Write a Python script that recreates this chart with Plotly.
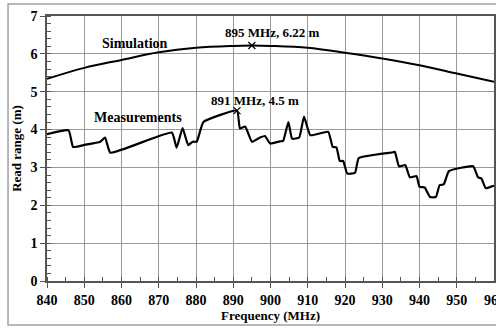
import plotly.graph_objects as go

sim_freq = [840, 850, 860, 870, 880, 890, 895, 900, 910, 920, 930, 940, 950, 960]
sim_range = [5.34, 5.63, 5.84, 6.04, 6.16, 6.21, 6.22, 6.21, 6.16, 6.03, 5.88, 5.70, 5.48, 5.26]

meas_freq = [840, 845.8, 847, 849.8, 854.3, 855.6, 857, 873.5, 874.8, 876.4, 877.9, 879.1, 880.2,
             882, 891, 891.8, 893.2, 895, 897.2, 898.5, 899.9, 902.5, 903.4, 904.8, 905.8, 907.7,
             909, 910.7, 915.5, 916.7, 917.7, 918.6, 919.5, 920.6, 922.7, 923.7, 932.9, 933.4,
             934.5, 936.2, 937.4, 939.2, 940, 941.4, 942.8, 944.4, 945.4, 946.5, 947.9, 954.4,
             955.7, 956.6, 957.8, 959.7, 960]
meas_range = [3.88, 3.98, 3.54, 3.59, 3.68, 3.79, 3.39, 3.92, 3.52, 4.04, 3.59, 3.68, 3.68,
              4.20, 4.50, 4.03, 4.08, 3.68, 3.79, 3.83, 3.63, 3.69, 3.70, 4.20, 3.76, 3.79,
              4.34, 3.85, 3.94, 3.54, 3.53, 3.17, 3.17, 2.84, 2.86, 3.25, 3.40, 3.41,
              3.03, 3.06, 2.74, 2.77, 2.49, 2.47, 2.22, 2.22, 2.53, 2.55, 2.90, 3.03,
              2.74, 2.71, 2.45, 2.51, 2.51]

peak_freq = [895, 891]
peak_range = [6.22, 4.50]

x_ticks = [840, 850, 860, 870, 880, 890, 900, 910, 920, 930, 940, 950, 960]
y_ticks = [0, 1, 2, 3, 4, 5, 6, 7]

FONT = "Liberation Serif"

fig = go.Figure()
fig.add_trace(go.Scatter(x=sim_freq, y=sim_range, mode="lines", line=dict(color="black", width=2, shape="spline"),
                         showlegend=False, hoverinfo="skip"))
fig.add_trace(go.Scatter(x=meas_freq, y=meas_range, mode="lines",
                         line=dict(color="black", width=2.2, shape="spline", smoothing=0.4),
                         showlegend=False, hoverinfo="skip"))
fig.add_trace(go.Scatter(x=peak_freq, y=peak_range, mode="markers",
                         marker=dict(symbol="x-thin", size=7, line=dict(color="black", width=1.2)),
                         showlegend=False, hoverinfo="skip"))

ann = dict(showarrow=False, font=dict(family=FONT, size=14, color="black"))
fig.add_annotation(x=863.7, y=6.27, text="<b>Simulation</b>", **ann)
fig.add_annotation(x=864.3, y=4.32, text="<b>Measurements</b>", **ann)
fig.add_annotation(x=900.5, y=6.56, text="<b>895 MHz, 6.22 m</b>", showarrow=False,
                   font=dict(family=FONT, size=13, color="black"))
fig.add_annotation(x=895.8, y=4.78, text="<b>891 MHz, 4.5 m</b>", showarrow=False,
                   font=dict(family=FONT, size=13, color="black"))
# last tick label (clipped by the figure edge, as in the reference)
fig.add_annotation(x=x_ticks[-1], xref="x", y=0, yref="paper", yanchor="top", yshift=-10,
                   text=f"<b>{x_ticks[-1]}</b>", showarrow=False,
                   font=dict(family=FONT, size=14, color="black"))

# outer chart border
fig.add_shape(type="rect", xref="paper", yref="paper", x0=-0.0872, x1=1.03, y0=-0.166, y1=1.0453,
              line=dict(color="#a0a0a0", width=1.5), layer="below")

fig.update_xaxes(range=[840, 960], tickvals=x_ticks[:-1], ticktext=[f"<b>{v}</b>" for v in x_ticks[:-1]],
                 showgrid=True, gridcolor="#999999", gridwidth=1,
                 showline=True, linecolor="#555555", linewidth=1.5, mirror=True,
                 ticks="outside", ticklen=5, tickcolor="#555555",
                 minor=dict(dtick=5, ticks="inside", ticklen=4, tickcolor="#555555", showgrid=False),
                 tickfont=dict(family=FONT, size=14, color="black"),
                 title=dict(text="<b>Frequency (MHz)</b>", font=dict(family=FONT, size=13, color="black"), standoff=2),
                 zeroline=False, automargin=False)
fig.update_yaxes(range=[0, 7], tickvals=y_ticks, ticktext=[f"<b>{v}</b>" for v in y_ticks],
                 showgrid=True, gridcolor="#999999", gridwidth=1,
                 showline=True, linecolor="#555555", linewidth=1.5, mirror=True,
                 ticks="outside", ticklen=5, tickcolor="#555555",
                 minor=dict(dtick=0.2, ticks="inside", ticklen=4, tickcolor="#555555", showgrid=False),
                 tickfont=dict(family=FONT, size=14, color="black"),
                 title=dict(text="<b>Read range (m)</b>", font=dict(family=FONT, size=13, color="black"), standoff=6),
                 zeroline=False, automargin=False)

fig.update_layout(width=496, height=328, margin=dict(l=47, r=2, t=16, b=47),
                  paper_bgcolor="white", plot_bgcolor="white")

fig.write_html("out.html", config={"displayModeBar": False},
               post_script="document.body.style.margin='0px';document.body.style.overflow='hidden';")
